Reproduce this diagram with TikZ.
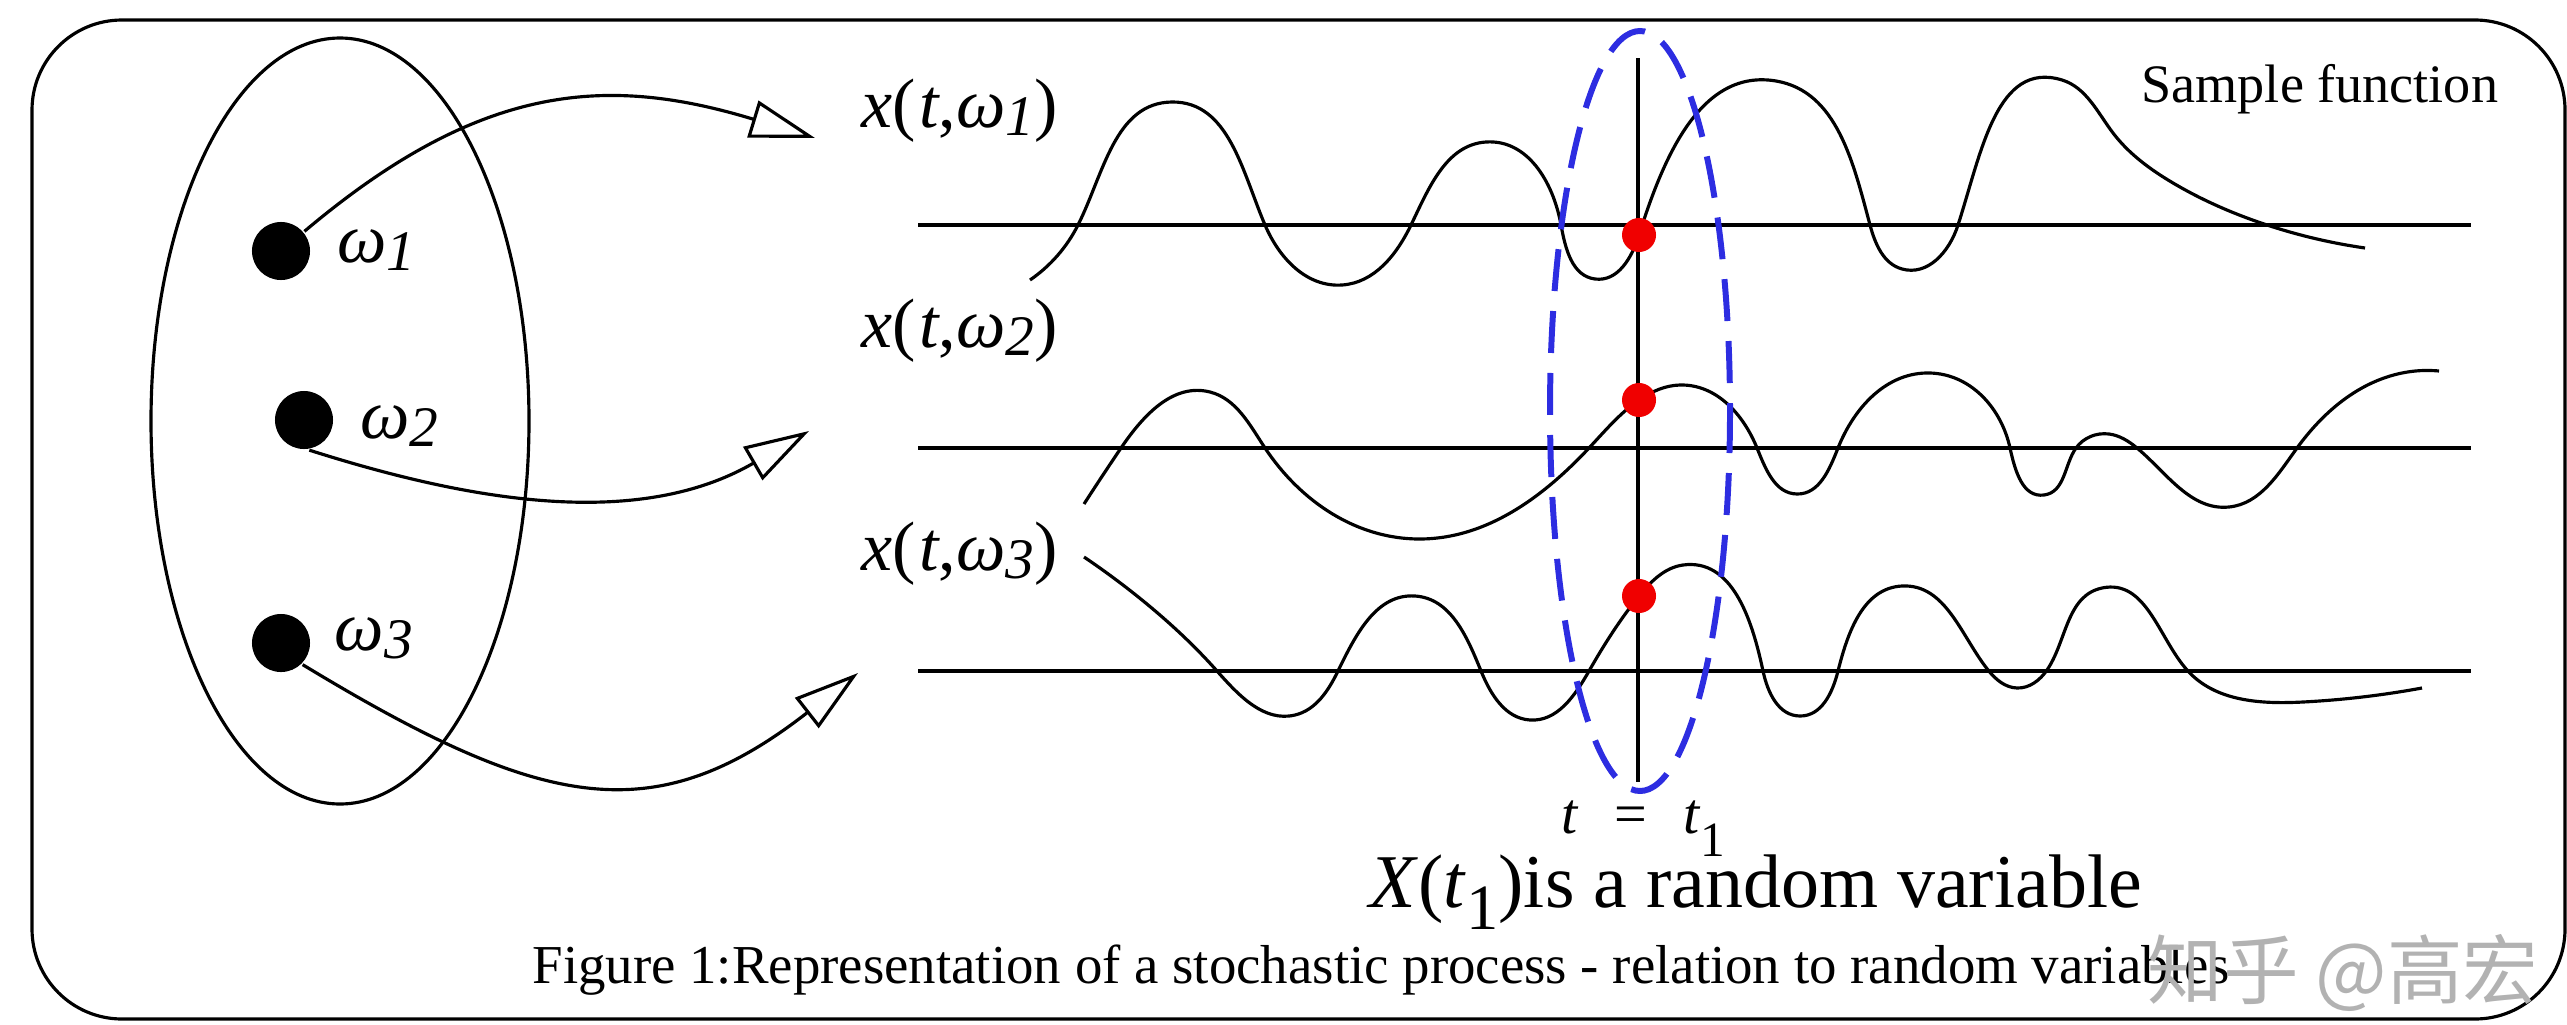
\documentclass[tikz,border=0pt]{standalone}
\usepackage{fontspec}
\setmainfont{Liberation Serif}
\newfontfamily\cjk{Noto Sans CJK SC}
\usepackage{graphicx}
\usetikzlibrary{arrows.meta, hobby}

\definecolor{dashblue}{RGB}{45,45,225}
\definecolor{dotred}{RGB}{240,0,0}
\definecolor{markgray}{RGB}{178,178,178}

\newcommand{\fs}[1]{\fontsize{#1pt}{#1pt}\selectfont}
\newcommand{\sbs}[1]{\raisebox{-0.12em}{\scalebox{0.82}{#1}}}

\begin{document}
\begin{tikzpicture}[x=0.01cm, y=-0.01cm, line width=0.9pt,
  wdot/.style={circle, fill=black, minimum size=0.58cm, inner sep=0pt},
  rdot/.style={circle, fill=dotred, minimum size=0.34cm, inner sep=0pt},
  lbl/.style={inner sep=0pt, anchor=base west},
  link/.style={-{Triangle[open, length=0.65cm, width=0.38cm]}},
  wave/.style={use Hobby shortcut}]
  \useasboundingbox (0,0) rectangle (2567,1024);

  % Frame
  \draw[rounded corners=0.9cm] (32,20) rectangle (2565,1019);

  % Sample space
  \draw (340,421) ellipse [x radius=189, y radius=383];
  \node[wdot] (w1) at (281,251) {};
  \node[wdot] (w2) at (304,420) {};
  \node[wdot] (w3) at (281,643) {};
  \node[lbl] (o1) at (336,262) {\fs{19.9}\textit{ω}\sbs{\textit{1}}};
  \node[lbl] (o2) at (359,438) {\fs{19.9}\textit{ω}\sbs{\textit{2}}};
  \node[lbl] (o3) at (333,650) {\fs{19.9}\textit{ω}\sbs{\textit{3}}};

  % Sample functions
  \node[lbl] (x1) at (860,127) {\fs{19.9}\textit{x}(\kern0.05em\textit{t},\textit{ω}\sbs{\textit{1}})};
  \node[lbl] (x2) at (860,347) {\fs{19.9}\textit{x}(\kern0.05em\textit{t},\textit{ω}\sbs{\textit{2}})};
  \node[lbl] (x3) at (860,570) {\fs{19.9}\textit{x}(\kern0.05em\textit{t},\textit{ω}\sbs{\textit{3}})};
  \node[lbl] (title) at (2140,102) {\fs{15.4}Sample function};

  % Mappings
  \coordinate (tip1) at (815,138);
  \coordinate (tip2) at (809,431);
  \coordinate (tip3) at (858,673);
  \draw[link] (w1.40) .. controls (479,84) and (605,74) .. (tip1);
  \draw[link] (w2.-80) .. controls (466,500) and (636,531) .. (tip2);
  \draw[link] (w3.-45) .. controls (541,809) and (653,833) .. (tip3);

  % Time axes
  \foreach \y in {225,448,671}
    \draw (918,\y) -- (2471,\y);
  \coordinate (ttop) at (1638,58);
  \coordinate (tbot) at (1638,782);
  \draw (ttop) -- (tbot);

  % Curves
  \draw[wave] (1030,280) .. (1078,225) .. (1172,102) .. (1265,225)
    .. (1342,285) .. (1411,225) .. (1486,142) .. (1561,225) .. (1595,279)
    .. (1639,235) .. (1776,81) .. (1870,225) .. (1902,269) .. (1958,225)
    .. (2062,80) .. (2113,133) .. (2173,183) .. (2267,225) .. (2365,248);
  \draw[wave] (1084,504) .. (1121,448) .. (1210,392) .. (1265,448)
    .. (1420,539) .. (1589,448) .. (1639,400) .. (1680,385) .. (1757,448)
    .. (1797,494) .. (1838,448) .. (1930,373) .. (2010,448) .. (2044,495)
    .. (2076,448) .. (2109,434) .. (2137,448) .. (2229,507) .. (2297,448)
    .. (2402,373) .. (2439,371);
  \draw[wave] (1084,557) .. (1142,600) .. (1217,671) .. (1295,715)
    .. (1338,671) .. (1415,596) .. (1481,671) .. (1530,720) .. (1589,671)
    .. (1639,596) .. (1683,565) .. (1763,671) .. (1800,716) .. (1838,671)
    .. (1902,586) .. (1988,670) .. (2017,688) .. (2047,670) .. (2102,588)
    .. (2187,670) .. (2303,702) .. (2422,688);

  % Random variable at t1
  \draw[dashblue, line width=1.7pt, dash pattern=on 0.42cm off 0.2cm]
    (1640,411) ellipse [x radius=90, y radius=380];
  \node[rdot] (r1) at (1639,235) {};
  \node[rdot] (r2) at (1639,400) {};
  \node[rdot] (r3) at (1639,596) {};
  \node[lbl] (teq) at (1560,833) {\fs{16.5}\textit{t}\hspace{0.62em}=\hspace{0.62em}\textit{t}\raisebox{-0.4em}{\scalebox{0.85}{1}}};
  \node[lbl] (rv) at (1368,907) {\fs{21.6}\textit{X}(\textit{t}\raisebox{-0.3em}{\scalebox{0.85}{1}})is a random variable};

  % Caption
  \node[lbl] (cap) at (531,983) {\fs{15.6}Figure 1:Representation of a stochastic process - relation to random variables};
  \node[lbl, text=markgray] (mark) at (2146,998) {\cjk\fs{21.5}知乎 @高宏};
\end{tikzpicture}
\end{document}
